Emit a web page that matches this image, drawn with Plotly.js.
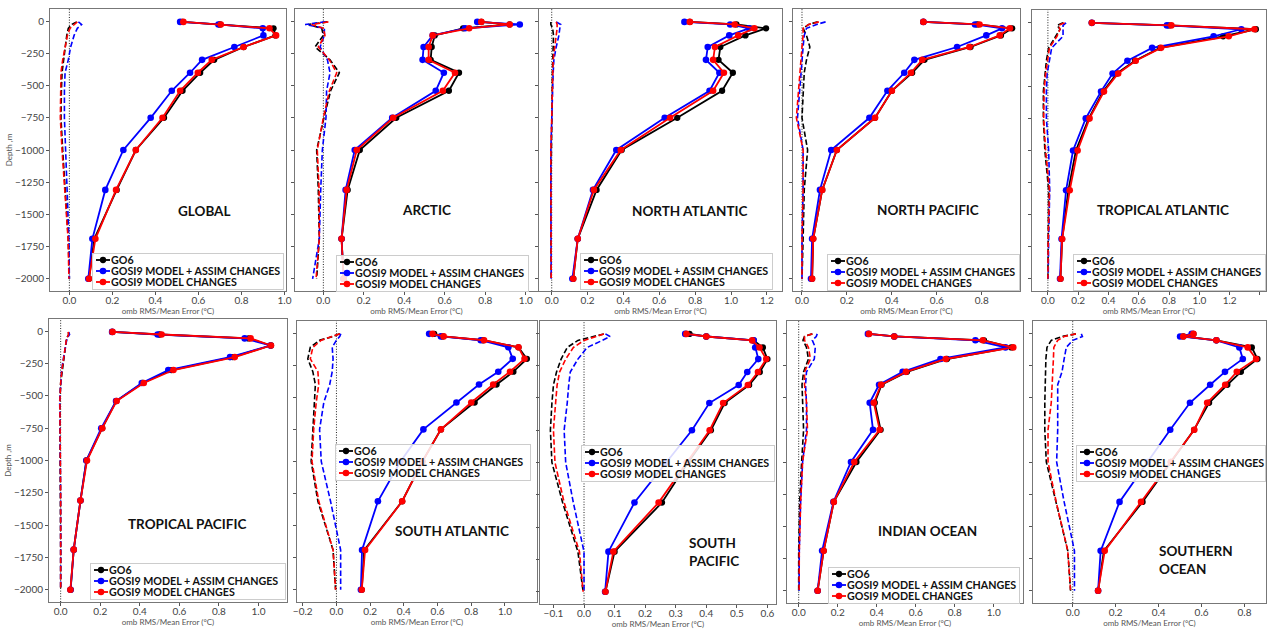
<!DOCTYPE html>
<html>
<head>
<meta charset="utf-8">
<script src="https://cdn.plot.ly/plotly-3.0.1.min.js"></script>
<style>
html,body{margin:0;padding:0;background:#ffffff;}
#chart{width:1267px;height:629px;}
</style>
</head>
<body>
<div id="chart"></div>
<script>
// ---------------- DATA ----------------
const depth = [-5, -25, -55, -110, -200, -300, -400, -540, -750, -1000, -1310, -1690, -2000];
const seriesNames = ['GO6', 'GOSI9 MODEL + ASSIM CHANGES', 'GOSI9 MODEL CHANGES'];
const regionNames = ['GLOBAL', 'ARCTIC', 'NORTH ATLANTIC', 'NORTH PACIFIC', 'TROPICAL ATLANTIC',
                     'TROPICAL PACIFIC', 'SOUTH ATLANTIC', 'SOUTH<br>PACIFIC', 'INDIAN OCEAN', 'SOUTHERN<br>OCEAN'];
const xAxisTitle = 'omb RMS/Mean Error (°C)';
const yAxisTitle = 'Depth ,m';
const depthTicks = [0, -250, -500, -750, -1000, -1250, -1500, -1750, -2000];

// GLOBAL
const globalRmsGO6   = [0.525, 0.70, 0.949, 0.958, 0.81, 0.673, 0.608, 0.526, 0.44, 0.309, 0.22, 0.116, 0.091];
const globalRmsAssim = [0.515, 0.693, 0.899, 0.902, 0.767, 0.617, 0.561, 0.476, 0.378, 0.251, 0.167, 0.107, 0.088];
const globalRmsModel = [0.53, 0.704, 0.93, 0.961, 0.81, 0.662, 0.597, 0.515, 0.433, 0.309, 0.217, 0.121, 0.091];
const globalMeGO6    = [0.034, 0.011, -0.005, -0.012, -0.019, -0.028, -0.034, -0.037, -0.039, -0.031, -0.019, -0.005, 0.0];
const globalMeAssim  = [0.042, 0.057, 0.037, 0.022, 0.006, -0.005, -0.02, -0.023, -0.023, -0.017, -0.008, -0.002, 0.0];
const globalMeModel  = [0.037, 0.022, 0.003, -0.009, -0.02, -0.031, -0.039, -0.04, -0.042, -0.034, -0.02, -0.006, -0.002];

// ARCTIC
const arcticRmsGO6   = [0.78, 0.92, 0.69, 0.55, 0.535, 0.53, 0.67, 0.62, 0.36, 0.18, 0.12, 0.09, 0.10];
const arcticRmsAssim = [0.76, 0.97, 0.70, 0.54, 0.495, 0.49, 0.595, 0.555, 0.34, 0.155, 0.11, 0.09, 0.10];
const arcticRmsModel = [0.78, 0.92, 0.72, 0.54, 0.52, 0.52, 0.65, 0.59, 0.345, 0.165, 0.115, 0.09, 0.10];
const arcticMeGO6    = [0.02, -0.074, -0.008, 0.0, -0.041, 0.033, 0.079, 0.036, 0.003, -0.033, -0.025, -0.02, -0.033];
const arcticMeAssim  = [0.01, -0.09, 0.005, 0.005, -0.016, 0.02, 0.033, 0.016, 0.013, -0.005, -0.013, -0.02, -0.053];
const arcticMeModel  = [0.025, -0.058, 0.0, 0.008, -0.025, 0.03, 0.066, 0.03, 0.0, -0.03, -0.021, -0.02, -0.036];

// NORTH ATLANTIC
const natlRmsGO6   = [0.77, 1.03, 1.195, 1.08, 0.94, 0.93, 1.01, 0.95, 0.70, 0.39, 0.25, 0.145, 0.12];
const natlRmsAssim = [0.74, 0.995, 1.10, 0.99, 0.87, 0.86, 0.935, 0.88, 0.63, 0.36, 0.23, 0.145, 0.115];
const natlRmsModel = [0.77, 1.02, 1.13, 1.04, 0.91, 0.90, 0.96, 0.90, 0.66, 0.385, 0.235, 0.145, 0.12];
const natlMeGO6    = [-0.005, -0.005, 0.005, 0.01, 0.008, 0.005, 0.004, 0.003, 0.0, -0.004, -0.005, -0.005, -0.003];
const natlMeAssim  = [0.025, 0.05, 0.045, 0.04, 0.025, 0.012, 0.008, 0.005, 0.0, -0.005, -0.005, -0.005, -0.003];
const natlMeModel  = [0.025, 0.03, 0.03, 0.025, 0.018, 0.008, 0.006, 0.005, 0.0, -0.005, -0.005, -0.005, -0.003];

// NORTH PACIFIC
const npacRmsGO6   = [0.54, 0.78, 0.935, 0.885, 0.75, 0.545, 0.49, 0.40, 0.325, 0.155, 0.09, 0.05, 0.045];
const npacRmsAssim = [0.54, 0.77, 0.89, 0.82, 0.69, 0.50, 0.455, 0.38, 0.30, 0.13, 0.08, 0.045, 0.04];
const npacRmsModel = [0.54, 0.79, 0.925, 0.88, 0.745, 0.535, 0.485, 0.40, 0.325, 0.155, 0.09, 0.05, 0.045];
const npacMeGO6    = [0.07, 0.03, 0.005, 0.02, 0.035, 0.02, 0.01, 0.005, 0.0, 0.025, 0.01, 0.005, 0.0];
const npacMeAssim  = [0.105, 0.065, 0.02, 0.01, 0.005, 0.0, -0.005, -0.01, -0.02, 0.005, 0.005, 0.0, 0.0];
const npacMeModel  = [0.075, 0.03, 0.005, 0.005, 0.0, -0.005, -0.01, -0.015, -0.025, 0.005, 0.005, 0.0, 0.0];

// TROPICAL ATLANTIC
const tatlRmsGO6   = [0.29, 0.80, 1.373, 1.157, 0.74, 0.575, 0.455, 0.365, 0.27, 0.185, 0.135, 0.094, 0.083];
const tatlRmsAssim = [0.29, 0.786, 1.277, 1.094, 0.688, 0.525, 0.427, 0.351, 0.25, 0.166, 0.12, 0.09, 0.08];
const tatlRmsModel = [0.29, 0.815, 1.364, 1.194, 0.747, 0.58, 0.464, 0.37, 0.275, 0.196, 0.144, 0.094, 0.083];
const tatlMeGO6    = [0.10, 0.06, 0.08, 0.05, 0.005, -0.01, -0.02, -0.03, -0.03, -0.02, 0.005, 0.0, 0.0];
const tatlMeAssim  = [0.12, 0.10, 0.10, 0.10, 0.025, 0.01, -0.005, -0.01, -0.01, 0.005, 0.012, 0.005, 0.002];
const tatlMeModel  = [0.11, 0.07, 0.08, 0.06, 0.01, -0.005, -0.015, -0.025, -0.028, -0.015, 0.01, 0.002, 0.0];

// TROPICAL PACIFIC
const tpacRmsGO6   = [0.26, 0.50, 0.95, 1.063, 0.87, 0.56, 0.415, 0.28, 0.21, 0.13, 0.10, 0.066, 0.05];
const tpacRmsAssim = [0.26, 0.49, 0.93, 1.06, 0.856, 0.544, 0.41, 0.28, 0.205, 0.13, 0.10, 0.066, 0.05];
const tpacRmsModel = [0.262, 0.51, 0.96, 1.063, 0.88, 0.57, 0.42, 0.283, 0.21, 0.133, 0.10, 0.066, 0.049];
const tpacMeGO6    = [0.04, 0.04, 0.03, 0.025, 0.015, 0.006, 0.0, -0.004, -0.003, 0.0, 0.0, 0.0, 0.0];
const tpacMeAssim  = [0.04, 0.045, 0.032, 0.025, 0.015, 0.005, 0.0, -0.005, -0.003, 0.0, 0.0, 0.0, 0.0];
const tpacMeModel  = [0.038, 0.04, 0.03, 0.024, 0.014, 0.006, 0.0, -0.004, -0.003, 0.0, 0.0, 0.0, 0.0];

// SOUTH ATLANTIC
const satlRmsGO6   = [0.58, 0.63, 0.87, 1.08, 1.13, 1.05, 0.95, 0.82, 0.62, 0.51, 0.39, 0.165, 0.15];
const satlRmsAssim = [0.55, 0.62, 0.856, 1.02, 1.046, 0.96, 0.846, 0.712, 0.516, 0.38, 0.246, 0.152, 0.145];
const satlRmsModel = [0.57, 0.636, 0.876, 1.08, 1.116, 1.03, 0.93, 0.80, 0.62, 0.51, 0.39, 0.17, 0.15];
const satlMeGO6    = [0.02, -0.02, -0.10, -0.155, -0.17, -0.14, -0.125, -0.13, -0.14, -0.15, -0.11, -0.02, -0.005];
const satlMeAssim  = [0.026, 0.02, 0.0, -0.025, -0.02, -0.025, -0.04, -0.075, -0.10, -0.09, -0.035, 0.025, 0.025];
const satlMeModel  = [0.02, -0.02, -0.09, -0.14, -0.155, -0.11, -0.105, -0.12, -0.135, -0.145, -0.105, -0.02, -0.005];

// SOUTH PACIFIC
const spacRmsGO6   = [0.345, 0.40, 0.555, 0.585, 0.60, 0.575, 0.54, 0.46, 0.415, 0.34, 0.255, 0.10, 0.07];
const spacRmsAssim = [0.331, 0.40, 0.555, 0.56, 0.57, 0.534, 0.506, 0.41, 0.353, 0.269, 0.165, 0.08, 0.069];
const spacRmsModel = [0.335, 0.40, 0.55, 0.574, 0.596, 0.569, 0.536, 0.455, 0.411, 0.336, 0.244, 0.096, 0.07];
const spacMeGO6    = [0.065, 0.03, -0.02, -0.055, -0.075, -0.09, -0.10, -0.105, -0.11, -0.105, -0.07, -0.02, -0.003];
const spacMeAssim  = [0.07, 0.085, 0.06, 0.01, -0.02, -0.045, -0.05, -0.055, -0.065, -0.06, -0.035, 0.0, 0.0];
const spacMeModel  = [0.065, 0.04, 0.0, -0.035, -0.06, -0.08, -0.088, -0.093, -0.10, -0.095, -0.065, -0.015, -0.003];

// INDIAN OCEAN
const indRmsGO6   = [0.36, 0.49, 0.95, 1.09, 0.76, 0.555, 0.425, 0.39, 0.42, 0.296, 0.18, 0.128, 0.097];
const indRmsAssim = [0.355, 0.49, 0.906, 1.06, 0.727, 0.533, 0.412, 0.364, 0.381, 0.268, 0.178, 0.12, 0.097];
const indRmsModel = [0.36, 0.49, 0.944, 1.10, 0.754, 0.55, 0.422, 0.385, 0.415, 0.285, 0.18, 0.128, 0.097];
const indMeGO6    = [0.07, 0.03, 0.022, 0.04, 0.05, 0.025, 0.017, 0.02, 0.025, 0.015, 0.005, 0.0, 0.0];
const indMeAssim  = [0.095, 0.09, 0.07, 0.085, 0.08, 0.04, 0.035, 0.04, 0.04, 0.02, 0.01, 0.003, 0.002];
const indMeModel  = [0.07, 0.03, 0.03, 0.05, 0.06, 0.03, 0.03, 0.04, 0.045, 0.02, 0.01, 0.003, 0.002];

// SOUTHERN OCEAN
const socRmsGO6   = [0.562, 0.515, 0.669, 0.834, 0.86, 0.783, 0.72, 0.635, 0.565, 0.457, 0.325, 0.145, 0.118];
const socRmsAssim = [0.554, 0.50, 0.669, 0.776, 0.792, 0.709, 0.64, 0.546, 0.454, 0.35, 0.218, 0.13, 0.118];
const socRmsModel = [0.562, 0.515, 0.669, 0.815, 0.854, 0.764, 0.71, 0.626, 0.566, 0.457, 0.318, 0.149, 0.118];
const socMeGO6    = [0.015, -0.05, -0.10, -0.12, -0.125, -0.125, -0.128, -0.13, -0.13, -0.123, -0.077, -0.023, -0.01];
const socMeAssim  = [0.04, 0.045, 0.0, -0.03, -0.04, -0.05, -0.07, -0.07, -0.07, -0.075, -0.04, 0.008, 0.008];
const socMeModel  = [0.015, -0.04, -0.07, -0.088, -0.09, -0.093, -0.093, -0.10, -0.115, -0.115, -0.077, -0.023, -0.01];

// ---------------- LAYOUT CONFIG (positions in px of the 1267x629 page) ----------------
const W = 1267, H = 629;
const colors = ['#000000', '#0000ff', '#ff0000'];
const FONT = 'Lato, "Open Sans", sans-serif';

const panels = [
  {rms:[globalRmsGO6, globalRmsAssim, globalRmsModel], me:[globalMeGO6, globalMeAssim, globalMeModel],
   box:[50,286,9,291], xr:[-0.09,1.007], dt:0.2, ylab:true, lab:[204.5,211,'center'], leg:[92,253,191]},
  {rms:[arcticRmsGO6, arcticRmsAssim, arcticRmsModel], me:[arcticMeGO6, arcticMeAssim, arcticMeModel],
   box:[295,538,9,291], xr:[-0.14,1.06], dt:0.2, ylab:false, lab:[426,210,'center'], leg:[336,255,192]},
  {rms:[natlRmsGO6, natlRmsAssim, natlRmsModel], me:[natlMeGO6, natlMeAssim, natlMeModel],
   box:[539,782,9,291], xr:[-0.071,1.284], dt:0.2, ylab:false, lab:[689,211,'center'], leg:[580,253,192]},
  {rms:[npacRmsGO6, npacRmsAssim, npacRmsModel], me:[npacMeGO6, npacMeAssim, npacMeModel],
   box:[793,1020,9,291], xr:[-0.04,0.97], dt:0.2, ylab:false, lab:[928,210,'center'], leg:[827,254,192]},
  {rms:[tatlRmsGO6, tatlRmsAssim, tatlRmsModel], me:[tatlMeGO6, tatlMeAssim, tatlMeModel],
   box:[1032,1266,10,291], xr:[-0.105,1.44], dt:0.2, ylab:false, lab:[1163,210,'center'], leg:[1073,254,192]},
  {rms:[tpacRmsGO6, tpacRmsAssim, tpacRmsModel], me:[tpacMeGO6, tpacMeAssim, tpacMeModel],
   box:[49,287,319,602], xr:[-0.059,1.144], dt:0.2, ylab:true, lab:[187,524,'center'], leg:[90,563,195]},
  {rms:[satlRmsGO6, satlRmsAssim, satlRmsModel], me:[satlMeGO6, satlMeAssim, satlMeModel],
   box:[297,537,321,602], xr:[-0.234,1.19], dt:0.2, ylab:false, lab:[452,531,'center'], leg:[335,444,195]},
  {rms:[spacRmsGO6, spacRmsAssim, spacRmsModel], me:[spacMeGO6, spacMeAssim, spacMeModel],
   box:[540,776,321,604], xr:[-0.144,0.628], dt:0.1, ylab:false, lab:[687,552,'left'], leg:[581,445,193]},
  {rms:[indRmsGO6, indRmsAssim, indRmsModel], me:[indMeGO6, indMeAssim, indMeModel],
   box:[787,1023,321,603], xr:[-0.06,1.15], dt:0.2, ylab:false, lab:[927,531,'center'], leg:[828,567,191]},
  {rms:[socRmsGO6, socRmsAssim, socRmsModel], me:[socMeGO6, socMeAssim, socMeModel],
   box:[1033,1266,321,603], xr:[-0.185,0.9], dt:0.2, ylab:false, lab:[1157,560,'left'], leg:[1076,445,189]}
];

const data = [];
const layout = {
  width: W, height: H,
  margin: {l:0, r:0, t:0, b:0, autoexpand: false},
  paper_bgcolor: '#ffffff', plot_bgcolor: '#ffffff',
  font: {family: FONT, color: '#333333'},
  hovermode: false,
  shapes: [], annotations: []
};

panels.forEach((p, i) => {
  const n = i + 1;
  const xs = n === 1 ? '' : String(n);
  const xa = 'x' + xs, ya = 'y' + xs;
  const legId = 'legend' + xs;

  // mean error (dashed)
  p.me.forEach((vals, k) => {
    data.push({type:'scatter', mode:'lines', x: vals, y: depth, xaxis: xa, yaxis: ya,
      line:{color: colors[k], width:1.6, dash:'5.5px,2.6px'}, showlegend:false, hoverinfo:'skip'});
  });
  // RMS (solid with markers)
  p.rms.forEach((vals, k) => {
    data.push({type:'scatter', mode:'lines+markers', x: vals, y: depth, xaxis: xa, yaxis: ya,
      name: seriesNames[k], legend: legId, showlegend: true,
      line:{color: colors[k], width:1.8}, marker:{color: colors[k], size: k === 0 ? 6.3 : 6.6}});
  });

  const [L, R, T, B] = p.box;
  layout['xaxis' + xs] = {
    domain: [L / W, R / W], range: p.xr, anchor: ya, automargin: false,
    tick0: 0, dtick: p.dt, tickformat: '.1f',
    ticks: 'outside', ticklen: 3, tickwidth: 1, tickcolor: '#555555',
    ticklabelstandoff: -3,
    showline: true, mirror: true, linecolor: '#777777', linewidth: 1,
    showgrid: false, zeroline: false,
    tickfont: {family: FONT, size: 10, color: '#444444'},
    title: {text: xAxisTitle, font: {family: FONT, size: 8, color: '#555555'}, standoff: 1}
  };
  layout['yaxis' + xs] = {
    domain: [1 - B / H, 1 - T / H], range: [-2095, 95], anchor: xa, automargin: false,
    tickmode: 'array', tickvals: depthTicks, showticklabels: p.ylab,
    ticks: 'outside', ticklen: 3, tickwidth: 1, tickcolor: '#555555',
    showline: true, mirror: true, linecolor: '#777777', linewidth: 1,
    showgrid: false, zeroline: false,
    tickfont: {family: FONT, size: 10, color: '#444444'},
    title: p.ylab ? {text: yAxisTitle, font: {family: FONT, size: 8, color: '#555555'}, standoff: 1} : {text: ''}
  };
  layout.shapes.push({type:'line', xref: xa, yref: ya + ' domain', x0: 0, x1: 0, y0: 0, y1: 1,
    line: {color: '#222222', width: 1, dash: '1px,1.6px'}, layer: 'below'});
  layout.annotations.push({xref:'paper', yref:'paper', x: p.lab[0] / W, y: 1 - p.lab[1] / H,
    xanchor: p.lab[2], yanchor: 'middle', align: 'left', showarrow: false, text: regionNames[i],
    font: {family: FONT, size: 13.5, weight: 'bold', color: '#111111'}});
  layout[legId] = {
    x: p.leg[0] / W, y: 1 - p.leg[1] / H, xanchor: 'left', yanchor: 'top',
    bgcolor: 'rgba(255,255,255,0.85)', bordercolor: '#cccccc', borderwidth: 1,
    font: {family: FONT, size: 10.7, weight: 'bold', color: '#111111'},
    itemwidth: 30, tracegroupgap: 0, traceorder: 'normal'
  };
});

// Make the legends as compact as the reference ones (short key, tight rows).
function compactLegends(gd) {
  const info = gd.querySelector('.infolayer') || gd;
  panels.forEach((p, i) => {
    try {
      const id = i === 0 ? 'legend' : 'legend' + (i + 1);
      const g = info.querySelector('g.' + id);
      if (!g) return;
      const items = g.querySelectorAll('g.traces');
      const rowH = 11, top = 1;
      items.forEach((it, k) => {
        it.setAttribute('transform', 'translate(1,' + (top + rowH * (k + 0.5) + 0.5) + ')');
        it.querySelectorAll('path.js-line').forEach(pa => pa.setAttribute('d', 'M3,0h14'));
        it.querySelectorAll('path.scatterpts').forEach(pa => pa.setAttribute('transform', 'translate(10,0)'));
        it.querySelectorAll('text').forEach(t => {
          t.setAttribute('x', 18);
          t.querySelectorAll('tspan').forEach(s => { if (s.hasAttribute('x')) s.setAttribute('x', 18); });
        });
        const tog = it.querySelector('rect.legendtoggle');
        if (tog) { tog.setAttribute('width', p.leg[2]); tog.setAttribute('height', rowH); }
      });
      const bg = g.querySelector('rect.bg');
      if (bg) {
        bg.setAttribute('height', 2 * top + rowH * items.length + 1);
        bg.setAttribute('width', p.leg[2]);
      }
    } catch (e) { console.log(e); }
  });
}

const gd = document.getElementById('chart');
Plotly.newPlot(gd, data, layout, {staticPlot: true, displayModeBar: false, responsive: false})
  .then(() => compactLegends(gd));
</script>
</body>
</html>
